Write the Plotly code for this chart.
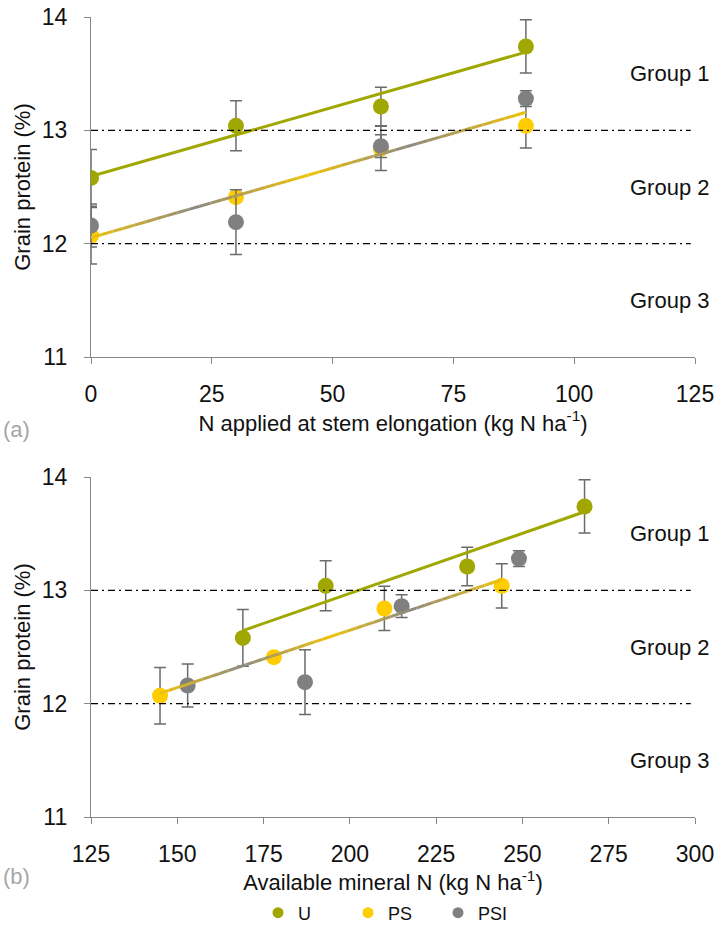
import numpy as np
import plotly.graph_objects as go

# ---- data -------------------------------------------------------------
n_applied = [0, 30, 60, 90]                 # kg N/ha at stem elongation
avail_U = [169, 193, 234, 268]              # available mineral N, U
avail_PS = [145, 178, 210, 244]             # available mineral N, PS
avail_PSI = [153, 187, 215, 249]            # available mineral N, PSI

protein_U = [12.58, 13.04, 13.21, 13.74]
protein_PS = [12.07, 12.41, 12.84, 13.04]
protein_PSI = [12.16, 12.19, 12.86, 13.28]

err_U = [0.25, 0.22, 0.17, 0.235]
err_PS = [0.25, 0.04, 0.195, 0.195]
err_PSI = [0.19, 0.285, 0.10, 0.07]

quality_limits = [12, 13]
group_labels = ["Group 1", "Group 2", "Group 3"]
group_levels = [13.5, 12.5, 11.5]

# ---- style ------------------------------------------------------------
C_U = "#a0a700"
C_PS = "#ffcc00"
C_PSI = "#808080"
C_ERR = "#6b6b6b"
C_AXIS = "#878787"
C_TEXT = "#111111"
FONT = "Liberation Sans"

W, H = 719, 938
ML, MR, MT, MB = 91, 24, 17, 121
PW, PH = W - ML - MR, H - MT - MB


def px_x(px):
    return (px - ML) / PW


def px_y(py):
    return (H - MB - py) / PH


fig = go.Figure()


def add_points(x, y, err, color, xa, ya):
    fig.add_trace(go.Scatter(
        x=x, y=y, mode="markers", xaxis=xa, yaxis=ya, showlegend=False,
        marker=dict(size=16, color=color),
        error_y=dict(type="data", array=err, visible=True, color=C_ERR,
                     thickness=1.5, width=6),
        hoverinfo="skip"))


def hexrgb(h):
    h = h.lstrip("#")
    return np.array([int(h[i:i + 2], 16) for i in (0, 2, 4)], dtype=float)


def add_gradient_line(x0, x1, coef, stops, xa, ya, n=40):
    """Fitted line drawn as short segments blending between colour stops."""
    xs = np.linspace(x0, x1, n + 1)
    ys = np.polyval(coef, xs)
    pos = [s[0] for s in stops]
    cols = [hexrgb(s[1]) for s in stops]
    for i in range(n):
        t = (i + 0.5) / n
        rgb = [np.interp(t, pos, [c[k] for c in cols]) for k in range(3)]
        col = "rgb(%d,%d,%d)" % tuple(int(round(v)) for v in rgb)
        fig.add_trace(go.Scatter(
            x=xs[i:i + 2], y=ys[i:i + 2], mode="lines", xaxis=xa, yaxis=ya,
            line=dict(color=col, width=3), showlegend=False, hoverinfo="skip"))


Y, G = "#efc30a", "#8d8a80"
blend_stops = [(0, Y), (0.24, G), (0.5, Y), (0.73, G), (1, Y)]

# ---- panel (a): N applied at stem elongation ---------------------------
add_points(n_applied, protein_PS, err_PS, C_PS, "x", "y")
add_points(n_applied, protein_PSI, err_PSI, C_PSI, "x", "y")
add_points(n_applied, protein_U, err_U, C_U, "x", "y")

coef_U_a = np.polyfit(n_applied, protein_U, 1)
fig.add_trace(go.Scatter(
    x=[min(n_applied), max(n_applied)],
    y=np.polyval(coef_U_a, [min(n_applied), max(n_applied)]),
    mode="lines", line=dict(color=C_U, width=3), xaxis="x", yaxis="y",
    showlegend=False, hoverinfo="skip"))
coef_P_a = np.polyfit(n_applied * 2, protein_PS + protein_PSI, 1)
add_gradient_line(min(n_applied), max(n_applied), coef_P_a, blend_stops, "x", "y")

# ---- panel (b): available mineral N ------------------------------------
add_points(avail_PS, protein_PS, err_PS, C_PS, "x2", "y2")
add_points(avail_PSI, protein_PSI, err_PSI, C_PSI, "x2", "y2")
add_points(avail_U, protein_U, err_U, C_U, "x2", "y2")

coef_U_b = np.polyfit(avail_U, protein_U, 1)
fig.add_trace(go.Scatter(
    x=[min(avail_U), max(avail_U)],
    y=np.polyval(coef_U_b, [min(avail_U), max(avail_U)]),
    mode="lines", line=dict(color=C_U, width=3), xaxis="x2", yaxis="y2",
    showlegend=False, hoverinfo="skip"))
coef_P_b = np.polyfit(avail_PS, protein_PS, 1)
add_gradient_line(min(avail_PS), max(avail_PS), coef_P_b, blend_stops, "x2", "y2")

# ---- legend entries ------------------------------------------------------
for name, col in [("U", C_U), ("PS", C_PS), ("PSI", C_PSI)]:
    fig.add_trace(go.Scatter(x=[None], y=[None], mode="markers", name=name,
                             marker=dict(size=11, color=col)))

# ---- quality thresholds and group labels -------------------------------
shapes = []
annotations = []
for yref, xref in [("y", "x"), ("y2", "x2")]:
    for lim in quality_limits:
        shapes.append(dict(type="line", xref=xref + " domain", yref=yref,
                           x0=0, x1=0.993, y0=lim, y1=lim,
                           line=dict(color="black", width=1.3,
                                     dash="7px,4px,2px,4px")))
    for lab, lev in zip(group_labels, group_levels):
        annotations.append(dict(text=lab, xref="paper", yref=yref,
                                x=px_x(628), y=lev, xanchor="left",
                                yanchor="middle", showarrow=False,
                                font=dict(size=22, color=C_TEXT, family=FONT)))

for lab, py in [("(a)", 429), ("(b)", 876)]:
    annotations.append(dict(text=lab, xref="paper", yref="paper",
                            x=px_x(1), y=px_y(py), xanchor="left",
                            yanchor="middle", showarrow=False,
                            font=dict(size=22, color="#a6a6a6", family=FONT)))

axis_common = dict(showline=True, linecolor=C_AXIS, linewidth=1.3,
                   ticks="outside", ticklen=6, tickwidth=1.3, tickcolor=C_AXIS,
                   showgrid=False, zeroline=False, automargin=True,
                   tickfont=dict(size=23, color=C_TEXT, family=FONT),
                   title_font=dict(size=22, color=C_TEXT, family=FONT))
xaxis_common = dict(axis_common, ticklabelstandoff=10)
yaxis_common = dict(axis_common, ticklabelstandoff=12)

fig.update_layout(
    width=W, height=H,
    margin=dict(l=ML, r=MR, t=MT, b=MB, autoexpand=False),
    paper_bgcolor="white", plot_bgcolor="white",
    font=dict(family=FONT, size=20, color=C_TEXT),
    xaxis=dict(domain=[0, 1], anchor="y", range=[0, 125], dtick=25, tick0=0,
               title=dict(text="N applied at stem elongation (kg N ha<sup>-1</sup>)",
                          standoff=9), **xaxis_common),
    yaxis=dict(domain=[0.575, 1], anchor="x", range=[11, 14], dtick=1,
               title=dict(text="Grain protein (%)", standoff=4), **yaxis_common),
    xaxis2=dict(domain=[0, 1], anchor="y2", range=[125, 300], dtick=25, tick0=125,
                title=dict(text="Available mineral N (kg N ha<sup>-1</sup>)",
                           standoff=0), **xaxis_common),
    yaxis2=dict(domain=[0, 0.425], anchor="x2", range=[11, 14], dtick=1,
                title=dict(text="Grain protein (%)", standoff=4), **yaxis_common),
    legend=dict(orientation="h", x=0.5, xanchor="center", y=px_y(913),
                yanchor="middle", font=dict(size=18, color=C_TEXT, family=FONT),
                entrywidth=45, entrywidthmode="pixels", bgcolor="rgba(0,0,0,0)"),
    shapes=shapes, annotations=annotations,
)

fig.write_html("out.html")
